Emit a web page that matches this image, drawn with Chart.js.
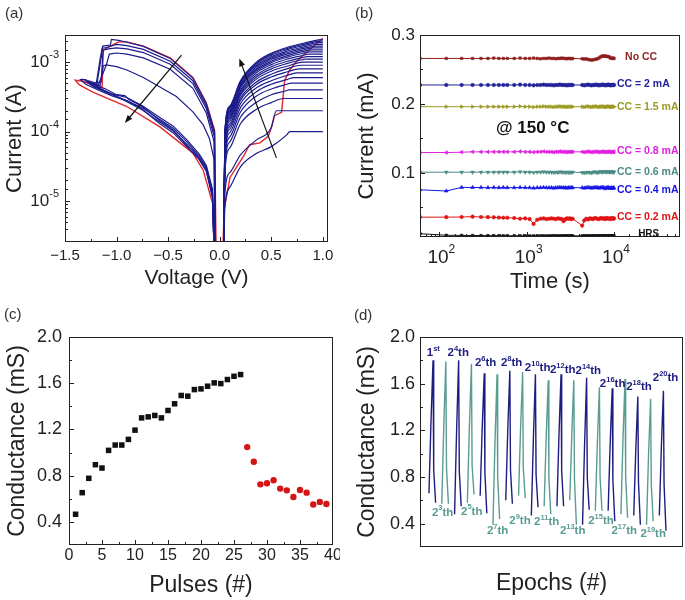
<!DOCTYPE html>
<html>
<head>
<meta charset="utf-8">
<script src="https://cdn.jsdelivr.net/npm/chart.js@4.4.1/dist/chart.umd.min.js"></script>
<style>
  html, body { margin:0; padding:0; background:#fff; }
  body { position:relative; width:685px; height:600px; overflow:hidden; font-family:"Liberation Sans", Arial, sans-serif; }
  canvas { position:absolute; display:block; }
  .tag { position:absolute; font-size:15px; color:#333; line-height:1; }
</style>
</head>
<body>
<canvas id="ca" width="340" height="300" style="left:0;top:0"></canvas>
<canvas id="cb" width="345" height="300" style="left:340px;top:0"></canvas>
<canvas id="cc" width="340" height="300" style="left:0;top:300px"></canvas>
<canvas id="cd" width="345" height="300" style="left:340px;top:300px"></canvas>
<div class="tag" style="left:5px;top:5px">(a)</div>
<div class="tag" style="left:355px;top:5px">(b)</div>
<div class="tag" style="left:4px;top:306px">(c)</div>
<div class="tag" style="left:354px;top:307px">(d)</div>
<script>
const FF = '"Liberation Sans", Arial, Helvetica, sans-serif';
const INK = '#222';

// ================= (a) I-V curves =================
const setV = [0.04, 0.05, 0.1, 0.2, 0.35, 0.5, 0.65, 0.8, 0.9];
const setCC = [1e-4, 2e-4, 3e-4, 4e-4, 5e-4, 6e-4, 7e-4, 8e-4, 9e-4, 1.0e-3, 1.1e-3, 1.2e-3, 1.3e-3, 1.4e-3, 1.5e-3, 1.6e-3, 1.7e-3, 1.8e-3, 1.9e-3, 2.0e-3, 2.1e-3];
const setKnee = [0.68, 0.55, 0.62, 0.667, 0.694, 0.723, 0.745, 0.77, 0.79, 0.806, 0.827, 0.845, 0.861, 0.875, 0.893, 0.909, 0.924, 0.9375, 0.95, 0.966, 0.981];
const setI = [
  [2e-6, 8e-6, 1.6e-5, 3.1e-5, 4.8e-5, 6.1e-5, 9.0e-5, null, null],
  [2e-6, 1.3e-5, 2.6e-5, 4.6e-5, 7.5e-5, 1.15e-4, null, null, null],
  [2e-6, 2.6e-5, 5.9e-5, 1.29e-4, 2.07e-4, 2.62e-4, null, null, null],
  [2e-6, 3.1e-5, 7.2e-5, 1.6e-4, 2.6e-4, 3.4e-4, 3.9e-4, null, null],
  [2e-6, 3.7e-5, 8.5e-5, 1.9e-4, 3.2e-4, 4.1e-4, 4.8e-4, null, null],
  [2e-6, 4.3e-5, 9.8e-5, 2.2e-4, 3.7e-4, 4.8e-4, 5.6e-4, null, null],
  [2e-6, 4.8e-5, 1.1e-4, 2.5e-4, 4.2e-4, 5.4e-4, 6.4e-4, null, null],
  [2e-6, 5.3e-5, 1.2e-4, 2.8e-4, 4.7e-4, 6.1e-4, 7.2e-4, null, null],
  [2e-6, 5.7e-5, 1.3e-4, 3.0e-4, 5.1e-4, 6.7e-4, 8.0e-4, null, null],
  [2e-6, 6.2e-5, 1.44e-4, 3.3e-4, 5.6e-4, 7.4e-4, 8.7e-4, null, null],
  [2e-6, 6.6e-5, 1.54e-4, 3.5e-4, 6.0e-4, 8.0e-4, 9.5e-4, 1.08e-3, null],
  [2e-6, 7.0e-5, 1.62e-4, 3.7e-4, 6.4e-4, 8.6e-4, 1.02e-3, 1.16e-3, null],
  [2e-6, 7.4e-5, 1.72e-4, 3.9e-4, 6.9e-4, 9.2e-4, 1.1e-3, 1.24e-3, null],
  [2e-6, 7.8e-5, 1.82e-4, 4.2e-4, 7.3e-4, 9.8e-4, 1.17e-3, 1.33e-3, null],
  [2e-6, 8.2e-5, 1.9e-4, 4.35e-4, 7.65e-4, 1.03e-3, 1.23e-3, 1.41e-3, null],
  [2e-6, 8.5e-5, 1.98e-4, 4.5e-4, 8.0e-4, 1.09e-3, 1.3e-3, 1.48e-3, null],
  [2e-6, 8.8e-5, 2.06e-4, 4.7e-4, 8.4e-4, 1.14e-3, 1.36e-3, 1.56e-3, 1.67e-3],
  [2e-6, 9.2e-5, 2.16e-4, 4.9e-4, 8.8e-4, 1.19e-3, 1.43e-3, 1.63e-3, 1.76e-3],
  [2e-6, 9.7e-5, 2.22e-4, 5.05e-4, 9.2e-4, 1.25e-3, 1.5e-3, 1.71e-3, 1.84e-3],
  [2e-6, 9.9e-5, 2.32e-4, 5.24e-4, 9.5e-4, 1.3e-3, 1.56e-3, 1.78e-3, 1.92e-3],
  [2e-6, 1.0e-4, 2.35e-4, 5.36e-4, 9.8e-4, 1.34e-3, 1.62e-3, 1.85e-3, 2.0e-3]
];
const setRed = [[0.03,2e-6],[0.045,8e-6],[0.1,2.2e-5],[0.23,4.4e-5],[0.29,6.5e-5],[0.39,6.9e-5],[0.47,8.6e-5],[0.5,1.13e-4],[0.53,1.7e-4],[0.6,1.9e-4],[0.63,5.5e-4],[0.68,7.7e-4],[0.74,1.0e-3],[0.87,1.5e-3],[1.0,2.2e-3]];
const resetRed = [[-0.035,2e-6],[-0.05,1.05e-4],[-0.13,2.6e-4],[-0.26,6.0e-4],[-0.48,1.15e-3],[-0.74,1.7e-3],[-0.9,1.95e-3],[-0.98,1.95e-3],[-1.1,1.57e-3],[-1.13,1.5e-3],[-1.14,4.4e-4],[-1.25,4.8e-4],[-1.33,5.3e-4],[-1.40,5.5e-4],[-1.36,4.7e-4],[-1.23,3.7e-4],[-0.9,2.3e-4],[-0.58,1.17e-4],[-0.32,5.8e-5],[-0.26,4.9e-5],[-0.16,2.8e-5],[-0.065,8.9e-6],[-0.05,2e-6]];
const resetA = [[-0.04,2e-6],[-0.05,1.0e-4],[-0.13,2.55e-4],[-0.26,5.9e-4],[-0.48,1.13e-3],[-0.74,1.68e-3],[-0.9,1.93e-3],[-0.98,2.05e-3],[-1.05,2.12e-3],[-1.06,1.76e-3],[-1.135,1.7e-3],[-1.145,1.26e-3],[-1.19,4.9e-4],[-1.26,5.3e-4]];
const resetB = [[-0.04,2e-6],[-0.05,9.3e-5],[-0.13,2.35e-4],[-0.26,5.4e-4],[-0.48,1.03e-3],[-0.74,1.52e-3],[-0.9,1.72e-3],[-1.0,1.8e-3],[-1.1,1.62e-3],[-1.14,1.58e-3],[-1.16,1.1e-3],[-1.2,4.6e-4],[-1.3,5.4e-4]];
const resetC = [[-0.045,2e-6],[-0.052,8.4e-5],[-0.13,2.15e-4],[-0.26,4.9e-4],[-0.48,9.3e-4],[-0.74,1.37e-3],[-0.9,1.55e-3],[-1.0,1.6e-3],[-1.08,1.55e-3],[-1.13,1.48e-3],[-1.15,5.2e-4],[-1.24,4.9e-4]];
const resetD = [[-0.045,2e-6],[-0.055,7.2e-5],[-0.13,1.85e-4],[-0.26,4.2e-4],[-0.48,7.9e-4],[-0.74,1.15e-3],[-0.9,1.3e-3],[-1.0,1.35e-3],[-1.07,1.3e-3],[-1.1,9e-4],[-1.18,4.6e-4],[-1.22,4.6e-4]];
const resetE = [[-0.045,2e-6],[-0.055,4e-5],[-0.1,8e-5],[-0.16,1.25e-4],[-0.26,1.93e-4],[-0.42,3.2e-4],[-0.58,4.4e-4],[-0.74,6.0e-4],[-0.9,7.7e-4],[-1.0,8.6e-4],[-1.1,9.1e-4],[-1.13,8.8e-4],[-1.16,4.6e-4],[-1.25,5e-4]];
const returnA = [[-1.26,5.3e-4],[-1.2,4.4e-4],[-1.05,3.5e-4],[-0.9,3.1e-4],[-0.75,2.35e-4],[-0.58,1.6e-4],[-0.45,1.2e-4],[-0.32,7.7e-5],[-0.2,4.8e-5],[-0.13,3.3e-5],[-0.07,1.5e-5],[-0.055,2e-6]];
const returnB = [[-1.3,5.4e-4],[-1.22,4.4e-4],[-1.1,3.7e-4],[-0.95,3.0e-4],[-0.75,2.2e-4],[-0.58,1.5e-4],[-0.45,1.12e-4],[-0.32,7.2e-5],[-0.2,4.5e-5],[-0.13,3.1e-5],[-0.07,1.35e-5],[-0.055,2e-6]];
const returnC = [[-1.24,4.9e-4],[-1.15,4.1e-4],[-1.0,3.2e-4],[-0.9,2.7e-4],[-0.75,2.05e-4],[-0.58,1.38e-4],[-0.45,1.02e-4],[-0.32,6.6e-5],[-0.2,4.2e-5],[-0.13,2.9e-5],[-0.07,1.25e-5],[-0.055,2e-6]];
const returnD = [[-1.22,4.6e-4],[-1.12,4.2e-4],[-1.0,3.4e-4],[-0.92,3.3e-4],[-0.88,2.9e-4],[-0.75,2.3e-4],[-0.58,1.45e-4],[-0.45,1.06e-4],[-0.32,6.3e-5],[-0.26,5.4e-5],[-0.2,4.1e-5],[-0.13,2.8e-5],[-0.07,1.2e-5],[-0.055,2e-6]];
const returnE = [[-1.25,5e-4],[-1.3,5.6e-4],[-1.35,5.6e-4],[-1.3,4.8e-4],[-1.2,4.1e-4],[-1.05,3.3e-4],[-0.9,2.8e-4],[-0.75,2.1e-4],[-0.58,1.3e-4],[-0.45,9.6e-5],[-0.32,6.1e-5],[-0.2,4.0e-5],[-0.13,2.7e-5],[-0.07,1.1e-5],[-0.055,2e-6]];
const arrowsA = [[[-0.37,1.26e-3],[-0.92,1.33e-4]], [[0.55,4.2e-5],[0.19,1.13e-3]]];

// ================= (b) retention =================
const tB = [60,120,180,240,300,360,420,480,540,600,
  720,840,960,1080,1200,1320,1440,1560,1680,1800,1920,2040,2160,2280,2400,2520,2640,2760,2880,3000,3120,3240,3360,
  4320,4560,4800,5040,5280,5520,5760,6000,6240,6480,6720,6960,7200,7440,7680,7920,8160,8400,8640,8880,9120,9360,9600,9840,10000];
const noCC = [0.266,0.266,0.266,0.266,0.266,0.266,0.2665,0.266,0.266,0.266,
  0.266,0.2665,0.266,0.266,0.2665,0.266,0.2655,0.266,0.266,0.2665,0.266,0.266,0.2655,0.266,0.266,0.2665,0.266,0.266,0.2655,0.266,0.266,0.2655,0.266,
  0.2655,0.265,0.2655,0.2645,0.264,0.2635,0.264,0.2645,0.265,0.2655,0.2665,0.268,0.269,0.2695,0.2695,0.2695,0.269,0.269,0.2685,0.268,0.2665,0.2665,0.266,0.2665,0.266];
const cc2 = [0.2275,0.2275,0.2275,0.2275,0.2275,0.2275,0.2275,0.2275,0.2275,0.2275,
  0.2275,0.228,0.2275,0.2275,0.227,0.2275,0.2275,0.228,0.2275,0.2275,0.2275,0.227,0.2275,0.2275,0.228,0.2275,0.2275,0.2275,0.227,0.2275,0.2275,0.2275,0.2275,
  0.2275,0.227,0.2275,0.228,0.2275,0.227,0.2275,0.2275,0.228,0.2275,0.227,0.2275,0.2275,0.228,0.2275,0.227,0.2275,0.2275,0.228,0.2275,0.227,0.2275,0.2275,0.2275,0.2275];
const cc15 = [0.196,0.196,0.196,0.196,0.196,0.196,0.196,0.196,0.196,0.196,
  0.196,0.1965,0.196,0.196,0.1955,0.196,0.196,0.1965,0.196,0.196,0.196,0.1955,0.196,0.196,0.1965,0.196,0.196,0.196,0.1955,0.196,0.196,0.196,0.196,
  0.196,0.1955,0.196,0.1965,0.196,0.1955,0.196,0.196,0.1965,0.196,0.1955,0.196,0.196,0.1965,0.196,0.1955,0.196,0.196,0.1965,0.196,0.1955,0.196,0.196,0.196,0.196];
const cc08 = [0.1295,0.1295,0.130,0.1305,0.1305,0.1305,0.1305,0.1305,0.1305,0.1305,
  0.1305,0.131,0.1305,0.1305,0.130,0.1305,0.1305,0.131,0.1305,0.1305,0.1305,0.130,0.1305,0.1305,0.131,0.1305,0.1305,0.1305,0.130,0.1305,0.1305,0.1305,0.1305,
  0.1305,0.130,0.1305,0.131,0.1305,0.130,0.1305,0.1305,0.131,0.1305,0.130,0.1305,0.1305,0.131,0.1305,0.130,0.1305,0.1305,0.131,0.1305,0.130,0.1305,0.1305,0.1305,0.1305];
const cc06 = [0.101,0.101,0.101,0.101,0.101,0.101,0.101,0.101,0.101,0.101,
  0.101,0.1015,0.101,0.101,0.1005,0.101,0.101,0.1015,0.101,0.101,0.101,0.1005,0.101,0.1005,0.1015,0.101,0.101,0.1005,0.101,0.101,0.1005,0.101,0.101,
  0.1005,0.1,0.1005,0.101,0.1005,0.1,0.101,0.1015,0.101,0.1005,0.101,0.102,0.1015,0.101,0.102,0.1015,0.101,0.102,0.1015,0.101,0.1015,0.102,0.101,0.1015,0.101];
const cc04 = [0.0755,0.0737,0.079,0.0788,0.0788,0.0785,0.0788,0.0785,0.0788,0.0785,
  0.0785,0.079,0.0785,0.0785,0.078,0.0785,0.0785,0.079,0.0785,0.0785,0.0785,0.078,0.0785,0.0785,0.079,0.0785,0.0785,0.0785,0.078,0.0785,0.0785,0.0785,0.0785,
  0.0785,0.078,0.0785,0.079,0.0785,0.078,0.0785,0.0785,0.079,0.0785,0.078,0.0785,0.0785,0.079,0.0785,0.077,0.0785,0.0785,0.079,0.0775,0.078,0.0785,0.0775,0.0785,0.078];
const cc02 = [0.0358,0.0358,0.036,0.0365,0.036,0.0358,0.0355,0.0352,0.035,0.035,
  0.0345,0.0335,0.034,0.033,0.026,0.032,0.0335,0.034,0.033,0.0335,0.034,0.0335,0.033,0.034,0.0335,0.033,0.030,0.0325,0.034,0.0335,0.034,0.033,0.0335,
  0.0235,0.031,0.0335,0.0325,0.034,0.0335,0.033,0.0345,0.034,0.0335,0.033,0.034,0.0345,0.0335,0.034,0.033,0.0345,0.034,0.0335,0.034,0.033,0.0345,0.034,0.0335,0.034];
const hrs = [0.0118,0.0095,0.0093,0.0092,0.009,0.009,0.0089,0.0089,0.0088,0.0088,
  0.0088,0.0087,0.0088,0.0087,0.0087,0.0088,0.0087,0.0087,0.0086,0.0087,0.0087,0.0088,0.0087,0.0087,0.0086,0.0087,0.0087,0.0088,0.0087,0.0086,0.0087,0.0087,0.0087,
  0.0087,0.0088,0.0087,0.0087,0.0086,0.0087,0.0088,0.0087,0.0087,0.0086,0.0087,0.0088,0.0087,0.0087,0.0086,0.0087,0.0088,0.0087,0.0087,0.0086,0.0087,0.0088,0.0087,0.0087,0.0087];
const bLabels = ['No CC','CC = 2 mA','CC = 1.5 mA','CC = 0.8 mA','CC = 0.6 mA','CC = 0.4 mA','CC = 0.2 mA','HRS'];
const bLabelT = [13400, 10800, 10800, 10800, 10800, 10800, 10800, 18900];
const bLabelV = [0.2677, 0.2285, 0.196, 0.131, 0.101, 0.0754, 0.0358, 0.0108];
const bNote = {text:'@ 150 °C', t:1172, v:0.165};

// ================= (c) pulses =================
const pulsesUp = [1,2,3,4,5,6,7,8,9,10,11,12,13,14,15,16,17,18,19,20,21,22,23,24,25,26];
const condUp = [0.466,0.653,0.777,0.895,0.866,1.019,1.065,1.065,1.114,1.194,1.30,1.309,1.321,1.30,1.364,1.422,1.494,1.488,1.545,1.551,1.574,1.603,1.597,1.632,1.660,1.675];
const pulsesDown = [27,28,29,30,31,32,33,34,35,36,37,38,39];
const condDown = [1.047,0.921,0.725,0.734,0.760,0.688,0.673,0.616,0.676,0.653,0.550,0.573,0.555];

// ================= (d) epochs =================
const spikes = [
  [[1,0.66],[1.16,1.28],[1.32,1.80],[1.37,0.86],[1.52,0.58]],
  [[2,0.57],[2.16,1.24],[2.32,1.79],[2.37,0.88],[2.52,0.57]],
  [[3,0.48],[3.16,1.20],[3.32,1.80],[3.37,0.85],[3.52,0.55]],
  [[4,0.58],[4.16,1.23],[4.32,1.77],[4.37,0.90],[4.52,0.65]],
  [[5,0.64],[5.16,1.22],[5.32,1.69],[5.37,0.84],[5.52,0.49]],
  [[6,0.39],[6.16,1.10],[6.32,1.68],[6.37,0.80],[6.52,0.44]],
  [[7,0.60],[7.16,1.21],[7.32,1.71],[7.37,0.86],[7.52,0.57]],
  [[8,0.64],[8.16,1.22],[8.32,1.70],[8.37,0.88],[8.52,0.62]],
  [[9,0.47],[9.16,1.13],[9.32,1.68],[9.37,0.82],[9.52,0.54]],
  [[10,0.55],[10.16,1.14],[10.32,1.63],[10.37,0.80],[10.52,0.48]],
  [[11,0.55],[11.16,1.16],[11.32,1.68],[11.37,0.85],[11.52,0.55]],
  [[12,0.60],[12.16,1.16],[12.32,1.63],[12.37,0.78],[12.52,0.39]],
  [[13,0.39],[13.16,1.08],[13.32,1.65],[13.37,0.80],[13.52,0.52]],
  [[14,0.51],[14.16,1.10],[14.32,1.57],[14.37,0.80],[14.52,0.51]],
  [[15,0.51],[15.16,1.09],[15.32,1.56],[15.37,0.78],[15.52,0.42]],
  [[16,0.48],[16.16,1.12],[16.32,1.64],[16.37,0.80],[16.52,0.45]],
  [[17,0.47],[17.16,1.03],[17.32,1.49],[17.37,0.76],[17.52,0.39]],
  [[18,0.39],[18.16,1.00],[18.32,1.47],[18.37,0.74],[18.52,0.42]],
  [[19,0.47],[19.16,1.06],[19.32,1.54],[19.37,0.74],[19.52,0.34]]
];
const topLabels = [
  ['1','st',1.34,1.867],['2','4',3.29,1.867],['2','6',5.43,1.776],['2','8',7.46,1.781],['2','10',9.49,1.733],
  ['2','12',11.45,1.718],['2','14',13.45,1.712],['2','16',15.35,1.595],['2','18',17.41,1.569],['2','20',19.49,1.647]
];
const bottomLabels = [
  ['2','3',2.07,0.497],['2','5',4.34,0.505],['2','7',6.37,0.339],['2','9',8.11,0.425],['2','11',10.2,0.419],
  ['2','13',12.23,0.339],['2','15',14.44,0.425],['2','17',16.26,0.339],['2','19',18.52,0.316]
];

// ================= helpers =================
const toXY = arr => arr.map(p => ({x:p[0], y:p[1]}));
function drawRich(ctx, x, y, parts, align, color, weight) {
  ctx.save();
  ctx.fillStyle = color; ctx.textBaseline = 'middle'; ctx.textAlign = 'left';
  const fonts = parts.map(p => `${weight} ${p.size}px ${FF}`);
  let w = 0;
  parts.forEach((p, i) => { ctx.font = fonts[i]; w += ctx.measureText(p.t).width; });
  let cx = align === 'center' ? x - w / 2 : (align === 'right' ? x - w : x);
  parts.forEach((p, i) => { ctx.font = fonts[i]; ctx.fillText(p.t, cx, y + (p.dy || 0)); cx += ctx.measureText(p.t).width; });
  ctx.restore();
}
const isPow10 = v => { const e = Math.log10(v); return Math.abs(e - Math.round(e)) < 1e-6; };
function framePlugin(cfg) {
  return {
    id: 'frame',
    afterDatasetsDraw(chart) {
      const {ctx, chartArea: a} = chart;
      ctx.save();
      ctx.strokeStyle = INK; ctx.lineWidth = 1;
      ctx.strokeRect(a.left + 0.5, a.top + 0.5, a.right - a.left - 1, a.bottom - a.top - 1);
      for (const id of ['x', 'y']) {
        if (!cfg[id]) continue;
        const s = chart.scales[id];
        s.ticks.forEach(t => {
          const p = Math.round(s.getPixelForValue(t.value)) + 0.5;
          const len = cfg[id](t.value) ? 5 : 3;
          ctx.beginPath();
          if (id === 'x') {
            if (p < a.left || p > a.right) return;
            ctx.moveTo(p, a.bottom); ctx.lineTo(p, a.bottom - len);
          } else {
            if (p < a.top || p > a.bottom) return;
            ctx.moveTo(a.left, p); ctx.lineTo(a.left + len, p);
          }
          ctx.stroke();
        });
      }
      ctx.restore();
    }
  };
}
function xAxis(h, extra) {
  return Object.assign({
    type: 'linear', grid: {display: false, drawTicks: false}, border: {display: false},
    afterFit(s) { s.height = h; s.paddingLeft = 0; s.paddingRight = 0; }
  }, extra);
}
function yAxis(w, extra) {
  return Object.assign({
    type: 'linear', grid: {display: false, drawTicks: false}, border: {display: false},
    afterFit(s) { s.width = w; s.paddingTop = 0; s.paddingBottom = 0; }
  }, extra);
}
const baseOpts = {responsive: false, animation: false, events: [], plugins: {legend: {display: false}, tooltip: {enabled: false}}};

// ================= chart (a) =================
(function () {
  const NAVY = '#1c1c8c', RED = '#e2262e';
  const ds = [];
  setI.forEach((row, k) => {
    const pts = [];
    row.forEach((I, i) => { if (I !== null && setV[i] < setKnee[k]) pts.push({x: setV[i], y: I}); });
    pts.push({x: setKnee[k], y: setCC[k]}, {x: 1.0, y: setCC[k]});
    ds.push({data: pts, borderColor: NAVY, borderWidth: 1.2, pointRadius: 0, cubicInterpolationMode: 'monotone'});
  });
  const resets = [resetA, resetB, resetC, resetD, resetE];
  const returns = [returnA, returnB, returnC, returnD, returnE];
  resets.forEach((r, i) => ds.push({data: toXY(r.concat(returns[i])), borderColor: NAVY, borderWidth: 1.2, pointRadius: 0, tension: 0}));
  ds.push({data: toXY(setRed), borderColor: RED, borderWidth: 1.4, pointRadius: 0, tension: 0});
  ds.push({data: toXY(resetRed), borderColor: RED, borderWidth: 1.4, pointRadius: 0, tension: 0});

  const arrows = {
    id: 'arrows',
    afterDatasetsDraw(chart) {
      const {ctx, scales: {x, y}} = chart;
      ctx.save();
      ctx.strokeStyle = '#111'; ctx.fillStyle = '#111'; ctx.lineWidth = 1.2;
      arrowsA.forEach(([p0, p1]) => {
        const x0 = x.getPixelForValue(p0[0]), y0 = y.getPixelForValue(p0[1]);
        const x1 = x.getPixelForValue(p1[0]), y1 = y.getPixelForValue(p1[1]);
        const ang = Math.atan2(y1 - y0, x1 - x0), L = 8, W = 3;
        ctx.beginPath(); ctx.moveTo(x0, y0); ctx.lineTo(x1 - Math.cos(ang) * 4, y1 - Math.sin(ang) * 4); ctx.stroke();
        ctx.beginPath();
        ctx.moveTo(x1, y1);
        ctx.lineTo(x1 - L * Math.cos(ang) + W * Math.sin(ang), y1 - L * Math.sin(ang) - W * Math.cos(ang));
        ctx.lineTo(x1 - L * Math.cos(ang) - W * Math.sin(ang), y1 - L * Math.sin(ang) + W * Math.cos(ang));
        ctx.closePath(); ctx.fill();
      });
      ctx.restore();
    }
  };
  const logLabels = {
    id: 'logLabels',
    afterDraw(chart) {
      const {ctx, chartArea: a, scales: {y}} = chart;
      y.ticks.forEach(t => {
        if (!isPow10(t.value)) return;
        const p = y.getPixelForValue(t.value);
        if (p < a.top - 1 || p > a.bottom + 1) return;
        const e = Math.round(Math.log10(t.value));
        drawRich(ctx, a.left - 6, p, [{t: '10', size: 17}, {t: String(e), size: 11, dy: -7}], 'right', INK, 'normal');
      });
    }
  };
  new Chart(document.getElementById('ca'), {
    type: 'line',
    data: {datasets: ds},
    options: Object.assign({}, baseOpts, {
      layout: {padding: {left: 0, top: 35, right: 12, bottom: 0}},
      scales: {
        x: xAxis(58, {min: -1.5, max: 1.05,
          ticks: {stepSize: 0.25, includeBounds: false, autoSkip: false, maxRotation: 0, padding: 5, color: INK, font: {family: FF, size: 15},
            callback: v => { if (Math.abs(v * 2 - Math.round(v * 2)) > 1e-6) return ''; const s = Math.abs(v).toFixed(1); return v < -1e-9 ? '\u2212' + s : s; }},
          title: {display: true, text: 'Voltage (V)', color: INK, font: {family: FF, size: 21}, padding: {top: 0, bottom: 9}}}),
        y: yAxis(65, {type: 'logarithmic', min: 2.6e-6, max: 2.45e-3,
          ticks: {display: false, autoSkip: false},
          title: {display: true, text: 'Current (A)', color: INK, font: {family: FF, size: 22}, padding: {top: 2, bottom: 0}}})
      }
    }),
    plugins: [framePlugin({x: v => Math.abs(v * 2 - Math.round(v * 2)) < 1e-6, y: isPow10}), arrows, logLabels]
  });
})();

// ================= chart (b) =================
(function () {
  const series = [noCC, cc2, cc15, cc08, cc06, cc04, cc02, hrs];
  const colors = ['#8e1f1f', '#22229a', '#9c9a22', '#e01ee0', '#4a8d85', '#1414e8', '#e01414', '#111111'];
  const styles = ['rect', 'circle', 'triangle', 'triangle', 'triangle', 'triangle', 'circle', 'rect'];
  const rots = [0, 0, 90, -90, 180, 0, 0, 0];
  const ds = series.map((s, i) => ({
    data: tB.map((t, j) => ({x: t, y: s[j]})),
    borderColor: colors[i], backgroundColor: colors[i], borderWidth: 1,
    pointRadius: styles[i] === 'triangle' ? 2.2 : 1.8, pointStyle: styles[i], pointRotation: rots[i],
    pointBackgroundColor: colors[i], pointBorderColor: colors[i], pointBorderWidth: 0.5, tension: 0
  }));
  const notes = {
    id: 'notes',
    afterDraw(chart) {
      const {ctx, scales: {x, y}, chartArea: a} = chart;
      ctx.save();
      ctx.textBaseline = 'middle'; ctx.textAlign = 'left';
      bLabels.forEach((txt, i) => {
        ctx.fillStyle = colors[i];
        ctx.font = `bold ${i === 7 ? 10 : 10.5}px ${FF}`;
        ctx.fillText(txt, x.getPixelForValue(bLabelT[i]), y.getPixelForValue(bLabelV[i]));
      });
      ctx.fillStyle = '#111'; ctx.textAlign = 'center';
      ctx.font = `bold 17px ${FF}`;
      ctx.fillText(bNote.text, x.getPixelForValue(bNote.t), y.getPixelForValue(bNote.v));
      ctx.restore();
      x.ticks.forEach(t => {
        if (!isPow10(t.value)) return;
        const p = x.getPixelForValue(t.value);
        if (p < a.left - 1 || p > a.right + 1) return;
        const e = Math.round(Math.log10(t.value));
        drawRich(ctx, p + 2, a.bottom + 21, [{t: '10', size: 19}, {t: String(e), size: 12, dy: -8}], 'center', INK, 'normal');
      });
    }
  };
  new Chart(document.getElementById('cb'), {
    type: 'line',
    data: {datasets: ds},
    options: Object.assign({}, baseOpts, {
      layout: {padding: {left: 0, top: 35, right: 5, bottom: 0}},
      scales: {
        x: xAxis(63, {type: 'logarithmic', min: 60, max: 57000,
          ticks: {display: false, autoSkip: false},
          title: {display: true, text: 'Time (s)', color: INK, font: {family: FF, size: 22}, padding: {top: 0, bottom: 5}}}),
        y: yAxis(80, {min: 0.007, max: 0.3,
          ticks: {stepSize: 0.05, includeBounds: false, autoSkip: false, padding: 5, color: INK, font: {family: FF, size: 17},
            callback: v => Math.abs(v * 10 - Math.round(v * 10)) < 1e-6 ? v.toFixed(1) : ''},
          title: {display: true, text: 'Current (mA)', color: INK, font: {family: FF, size: 22}, padding: {top: 14, bottom: 0}}})
      }
    }),
    plugins: [framePlugin({x: isPow10, y: v => Math.abs(v * 10 - Math.round(v * 10)) < 1e-6}), notes]
  });
})();

// ================= chart (c) =================
(function () {
  new Chart(document.getElementById('cc'), {
    type: 'scatter',
    data: {datasets: [
      {data: pulsesUp.map((p, i) => ({x: p, y: condUp[i]})), pointStyle: 'rect', pointRadius: 3.9, backgroundColor: '#111', borderColor: '#111', borderWidth: 0},
      {data: pulsesDown.map((p, i) => ({x: p, y: condDown[i]})), pointStyle: 'circle', pointRadius: 3.2, backgroundColor: '#d51515', borderColor: '#d51515', borderWidth: 0}
    ]},
    options: Object.assign({}, baseOpts, {
      layout: {padding: {left: 0, top: 37, right: 7, bottom: 0}},
      scales: {
        x: xAxis(55, {min: 0, max: 40,
          ticks: {stepSize: 2.5, includeBounds: false, autoSkip: false, maxRotation: 0, padding: 1, color: INK, font: {family: FF, size: 16},
            callback: v => Math.abs(v / 5 - Math.round(v / 5)) < 1e-6 ? String(Math.round(v)) : ''},
          title: {display: true, text: 'Pulses (#)', color: INK, font: {family: FF, size: 23}, padding: {top: 0, bottom: 1}}}),
        y: yAxis(69, {min: 0.2, max: 2.0,
          ticks: {stepSize: 0.2, includeBounds: false, autoSkip: false, padding: 7, color: INK, font: {family: FF, size: 18},
            callback: v => Math.abs(v / 0.4 - Math.round(v / 0.4)) < 1e-6 ? v.toFixed(1) : ''},
          title: {display: true, text: 'Conductance (mS)', color: INK, font: {family: FF, size: 23}, padding: {top: 4, bottom: 0}}})
      }
    }),
    plugins: [framePlugin({x: v => Math.abs(v / 5 - Math.round(v / 5)) < 1e-6, y: v => Math.abs(v / 0.4 - Math.round(v / 0.4)) < 1e-6})]
  });
})();

// ================= chart (d) =================
(function () {
  const NAVY = '#1d1d80', TEAL = '#5a9c92';
  const ds = spikes.map((s, i) => ({data: toXY(s), borderColor: i % 2 === 0 ? NAVY : TEAL, borderWidth: 1.4, pointRadius: 0, tension: 0}));
  const labels = {
    id: 'labels',
    afterDatasetsDraw(chart) {
      const {ctx, scales: {x, y}} = chart;
      topLabels.forEach(([b, s, xv, yv]) => {
        const parts = b === '1' ? [{t: '1', size: 11.5}, {t: 'st', size: 7.5, dy: -4}] : [{t: '2', size: 11.5}, {t: s, size: 7.5, dy: -4}, {t: 'th', size: 11.5}];
        drawRich(ctx, x.getPixelForValue(xv), y.getPixelForValue(yv), parts, 'center', NAVY, 'bold');
      });
      bottomLabels.forEach(([b, s, xv, yv]) => {
        drawRich(ctx, x.getPixelForValue(xv), y.getPixelForValue(yv), [{t: '2', size: 11.5}, {t: s, size: 7.5, dy: -4}, {t: 'th', size: 11.5}], 'center', TEAL, 'bold');
      });
    }
  };
  new Chart(document.getElementById('cd'), {
    type: 'line',
    data: {datasets: ds},
    options: Object.assign({}, baseOpts, {
      layout: {padding: {left: 0, top: 37, right: 2, bottom: 0}},
      scales: {
        x: xAxis(53, {min: 0.3, max: 20.85,
          ticks: {display: false},
          title: {display: true, text: 'Epochs (#)', color: INK, font: {family: FF, size: 23}, padding: {top: 0, bottom: 3}}}),
        y: yAxis(80, {min: 0.2, max: 2.0,
          ticks: {stepSize: 0.2, includeBounds: false, autoSkip: false, padding: 5, color: INK, font: {family: FF, size: 18},
            callback: v => Math.abs(v / 0.4 - Math.round(v / 0.4)) < 1e-6 ? v.toFixed(1) : ''},
          title: {display: true, text: 'Conductance (mS)', color: INK, font: {family: FF, size: 23}, padding: {top: 14, bottom: 0}}})
      }
    }),
    plugins: [framePlugin({y: v => Math.abs(v / 0.4 - Math.round(v / 0.4)) < 1e-6}), labels]
  });
})();
</script>
</body>
</html>
